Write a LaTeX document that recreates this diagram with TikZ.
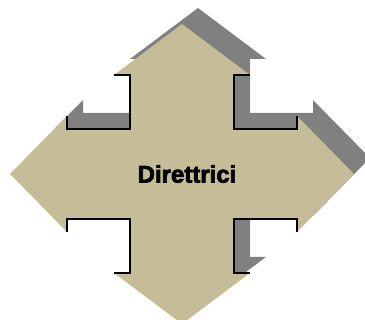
\documentclass[tikz,border=0pt]{standalone}
\usepackage{fontspec}
\usepackage{xcolor}
\usepackage{tikz}
\newfontfamily\labelfont{Liberation Sans}[BoldFeatures={FakeBold=3}]
\definecolor{arrowtan}{RGB}{196,189,151}
\definecolor{arrowshade}{RGB}{128,128,128}
\tikzstyle{shade} = [fill=arrowshade, draw=none]
\tikzstyle{body} = [fill=arrowtan, draw=none]
\tikzstyle{rim} = [draw=black, line width=1.3pt]
\tikzstyle{label} = [font=\labelfont\bfseries\fontsize{24}{27}\selectfont, text=black]
% outline of the four-way arrow, centre at (0,0)
\newcommand{\quadarrow}{(0,-150) -- (68,-99) -- (52,-99) -- (52,-45) -- (115,-45) -- (115,-58) -- (172,0) -- (115,58) -- (115,45) -- (52,45) -- (52,99) -- (68,99) -- (0,150) -- (-68,99) -- (-52,99) -- (-52,45) -- (-115,45) -- (-115,58) -- (-172,0) -- (-115,-58) -- (-115,-45) -- (-52,-45) -- (-52,-99) -- (-68,-99) -- cycle}

\begin{document}
\begin{tikzpicture}[x=1pt, y=-1pt]
    \useasboundingbox (0,0) rectangle (365,320);
    \clip (0,0) rectangle (365,320);

    \begin{scope}[shift={(182,174)}]
        % shadow
        \path[shade, shift={(16,-16)}] \quadarrow;
        % arrow
        \path[body] \quadarrow;
        % inner edges
        \draw[rim] (-68,-99) -- (-52,-99) -- (-52,-45) -- (-115,-45) -- (-115,-58);
        \draw[rim] (68,-99) -- (52,-99) -- (52,-45) -- (115,-45) -- (115,-58);
        \draw[rim] (115,58) -- (115,45) -- (52,45) -- (52,99) -- (68,99);
        \draw[rim] (-68,99) -- (-52,99) -- (-52,45) -- (-115,45) -- (-115,58);

        \node[label] (title) at (5,0) {Direttrici};
    \end{scope}
\end{tikzpicture}
\end{document}
